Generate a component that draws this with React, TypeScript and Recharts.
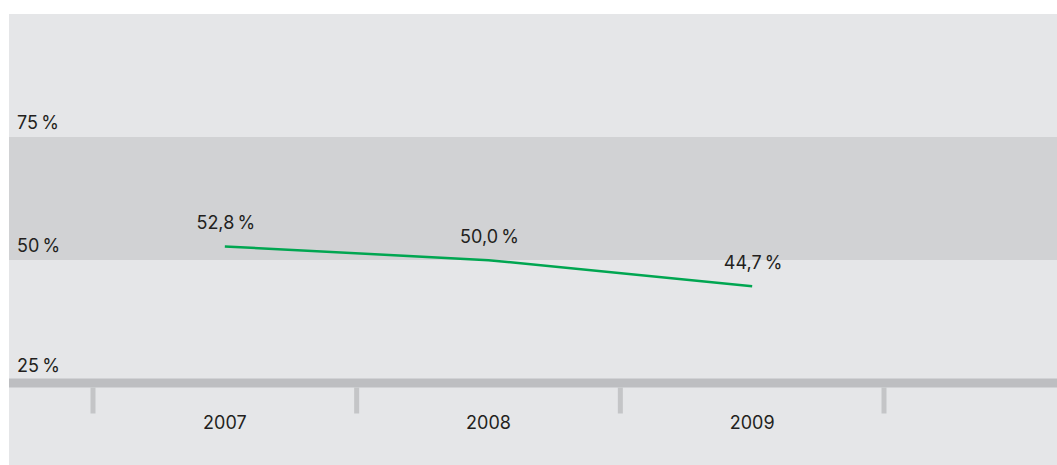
import React from 'react';
import { LineChart, Line, XAxis, YAxis, CartesianGrid, LabelList } from 'recharts';

// Share per year
const years = [2007, 2008, 2009];
const shares = [52.8, 50.0, 44.7];

// Value axis levels that get a label
const levelTicks = [25, 50, 75];
const valueDomain = [25, 100];

// Year boundaries that get a tick mark (between the year labels)
const boundaryTicks = [2006.5, 2007.5, 2008.5, 2009.5];

const data = years.map((year, i) => ({ year, share: shares[i] }));
const xTicks = [...boundaryTicks, ...years].sort((a, b) => a - b);

const W = 1048;
const H = 451;
const FONT = 'Inter, "Liberation Sans", Arial, sans-serif';
const TEXT = '#231f20';
const BG = '#e5e6e8';
const BAND = '#d1d2d4';
const AXIS = '#bdbec1';
const TICK = '#c4c5c7';
const GREEN = '#00a651';

const pct = (v: number, digits = 0) => `${v.toFixed(digits).replace('.', ',')}\u2009%`;

const YearTick = (props: any) => {
  const { x, y, payload } = props;
  const v = payload.value as number;
  if (Number.isInteger(v)) {
    return (
      <text x={x} y={y + 46} textAnchor="middle" fontFamily={FONT} fontSize={18} fill={TEXT}>
        {v}
      </text>
    );
  }
  return <rect x={x - 2.5} y={y + 4.5} width={5} height={26} fill={TICK} />;
};

const LevelTick = (props: any) => {
  const { y, payload } = props;
  const v = payload.value as number;
  // the lowest level sits on the axis bar, so lift its label above the bar
  const lift = v === valueDomain[0] ? 11 : 8.5;
  return (
    <text x={8} y={y - lift} textAnchor="start" fontFamily={FONT} fontSize={18} fill={TEXT}>
      {pct(v)}
    </text>
  );
};

const ValueLabel = (props: any) => {
  const { x, y, value } = props;
  return (
    <text x={x + 1} y={y - 17} textAnchor="middle" fontFamily={FONT} fontSize={18} fill={TEXT}>
      {pct(value, 1)}
    </text>
  );
};

export default function App() {
  return (
    <div style={{ position: 'absolute', left: 9, top: 14, width: W, height: H, background: BG }}>
      <LineChart width={W} height={H} data={data} margin={{ top: 0.5, right: 0, bottom: 0, left: -1 }}>
        {/* shaded band between the 50 % and 75 % levels */}
        <CartesianGrid
          vertical={false}
          stroke="none"
          syncWithTicks
          horizontalFill={['none', BAND, 'none']}
          fillOpacity={1}
        />
        <XAxis
          dataKey="year"
          type="number"
          domain={[boundaryTicks[0], boundaryTicks[boundaryTicks.length - 1]]}
          ticks={xTicks}
          interval={0}
          padding={{ left: 84, right: 173 }}
          height={82}
          axisLine={{ stroke: AXIS, strokeWidth: 9 }}
          tickLine={false}
          tickSize={0}
          tickMargin={0}
          tick={<YearTick />}
        />
        <YAxis
          type="number"
          domain={valueDomain}
          ticks={levelTicks}
          interval={0}
          width={1}
          axisLine={false}
          tickLine={false}
          tickSize={0}
          tickMargin={0}
          tick={<LevelTick />}
        />
        <Line
          type="linear"
          dataKey="share"
          stroke={GREEN}
          strokeWidth={2.5}
          dot={false}
          activeDot={false}
          isAnimationActive={false}
        >
          <LabelList dataKey="share" content={<ValueLabel />} />
        </Line>
      </LineChart>
    </div>
  );
}
